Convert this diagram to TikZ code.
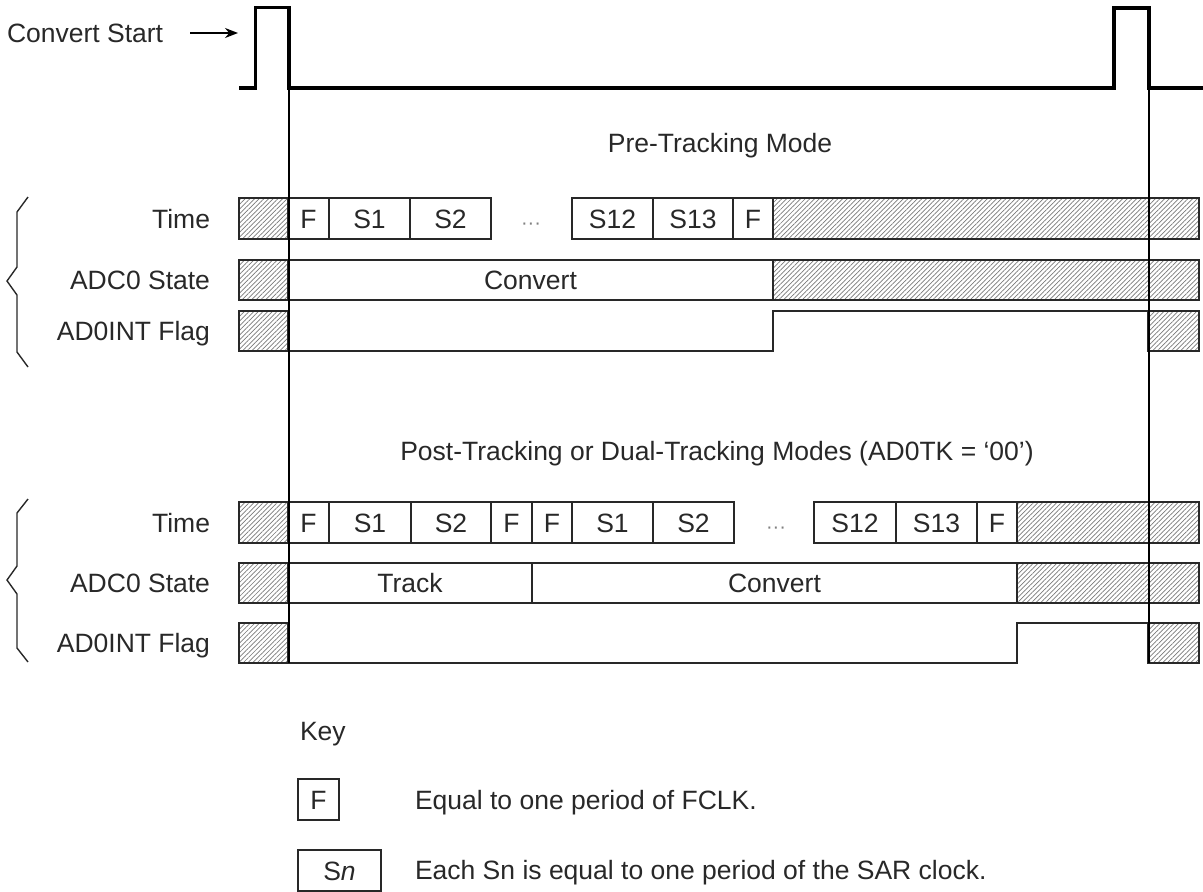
\documentclass[tikz,border=0pt]{standalone}
\usepackage{fontspec}
\setmainfont{Liberation Sans}
\usetikzlibrary{arrows.meta,patterns.meta}
\definecolor{ink}{RGB}{40,40,40}
\definecolor{hatchc}{RGB}{120,120,120}
\tikzset{
  lbl/.style={font=\fontsize{26.5}{30}\selectfont, text=ink, inner sep=0pt, outer sep=0pt, text height=19pt, text depth=0pt},
  cellbox/.style={lbl, draw=ink, line width=1.8pt, fill=white},
  hatch/.style={pattern={Lines[angle=45,distance=3.3pt,line width=0.7pt]}, pattern color=hatchc},
  sig/.style={line width=3.8pt, line join=miter, black},
  guide/.style={line width=1.5pt, black},
  flag/.style={draw=ink, line width=1.8pt, line join=miter},
  bracel/.style={line width=1.4pt, ink},
  arr/.style={line width=1.4pt, black, -{Stealth[length=13pt,width=10pt]}},
  dotsl/.style={font=\fontsize{20}{24}\selectfont, text=gray, inner sep=0pt},
}
\newcommand{\mycell}[7][]{%
  \node[cellbox,#1,minimum width={(#5-#3)*1pt},minimum height={(#6-#4)*1pt}] (#2) at ({(#3+#5)/2},{(#4+#6)/2}) {#7};}
\begin{document}
\begin{tikzpicture}[x=1pt,y=-1pt]
\useasboundingbox (0,0) rectangle (1203,892);
% ---------- group 1 : Pre-Tracking ----------
\node[lbl] (pre) at (720,143) {Pre-Tracking Mode};
\mycell[hatch]{ta0}{239}{198}{288}{239}{}
\mycell{ta1}{288}{198}{329}{239}{F}
\mycell{ta2}{329}{198}{410}{239}{S1}
\mycell{ta3}{410}{198}{491}{239}{S2}
\node[dotsl, anchor=base] (tad) at (531,229) {···};
\mycell{ta4}{572}{198}{653}{239}{S12}
\mycell{ta5}{653}{198}{733}{239}{S13}
\mycell{ta6}{733}{198}{773}{239}{F}
\mycell[hatch]{ta7}{773}{198}{1199}{239}{}
\mycell[hatch]{sa0}{239}{260}{288}{300}{}
\mycell{sa1}{288}{260}{773}{300}{Convert}
\mycell[hatch]{sa2}{773}{260}{1199}{300}{}
\mycell[hatch]{fa0}{239}{311}{288}{351}{}
\mycell[hatch]{fa2}{1148}{311}{1199}{351}{}
\draw[flag] (fa0.south east) -- (773,351) -- (773,311) -- (fa2.north west);
\node[lbl, anchor=east] (la1) at (210,218.5) {Time};
\node[lbl, anchor=east] (la2) at (210,280) {ADC0 State};
\node[lbl, anchor=east] (la3) at (210,331) {AD0INT Flag};
\draw[bracel] (28,197) -- (17,212) -- (17,267) -- (7,281) -- (17,295) -- (17,352) -- (28,367);
% ---------- group 2 : Post/Dual-Tracking ----------
\node[lbl] (post) at (717,451) {Post-Tracking or Dual-Tracking Modes (AD0TK = ‘00’)};
\mycell[hatch]{tb0}{239}{502}{288}{543}{}
\mycell{tb1}{288}{502}{329}{543}{F}
\mycell{tb2}{329}{502}{411}{543}{S1}
\mycell{tb3}{411}{502}{491}{543}{S2}
\mycell{tb4}{491}{502}{532}{543}{F}
\mycell{tb5}{532}{502}{572}{543}{F}
\mycell{tb6}{572}{502}{653}{543}{S1}
\mycell{tb7}{653}{502}{734}{543}{S2}
\node[dotsl, anchor=base] (tbd) at (776,533) {···};
\mycell{tb8}{814}{502}{896}{543}{S12}
\mycell{tb9}{896}{502}{977}{543}{S13}
\mycell{tb10}{977}{502}{1017}{543}{F}
\mycell[hatch]{tb11}{1017}{502}{1199}{543}{}
\mycell[hatch]{sb0}{239}{563}{288}{603}{}
\mycell{sb1}{288}{563}{532}{603}{Track}
\mycell{sb2}{532}{563}{1017}{603}{Convert}
\mycell[hatch]{sb3}{1017}{563}{1199}{603}{}
\mycell[hatch]{fb0}{239}{623}{288}{663}{}
\mycell[hatch]{fb2}{1148}{623}{1199}{663}{}
\draw[flag] (fb0.south east) -- (1017,663) -- (1017,623) -- (fb2.north west);
\node[lbl, anchor=east] (lb1) at (210,522.5) {Time};
\node[lbl, anchor=east] (lb2) at (210,583) {ADC0 State};
\node[lbl, anchor=east] (lb3) at (210,643) {AD0INT Flag};
\draw[bracel] (28,499) -- (17,513) -- (17,566) -- (7,580) -- (17,594) -- (17,648) -- (28,662);
% ---------- guides and Convert Start signal ----------
\draw[guide] (289,88) -- (289,663);
\draw[guide] (1149,88) -- (1149,663);
\draw[sig] (239,88) -- (255.5,88) -- (255.5,7.5) -- (289,7.5) -- (289,88) -- (1114,88) -- (1114,8) -- (1149,8) -- (1149,88) -- (1203,88);
\node[lbl, anchor=west] (cs) at (7,33) {Convert Start};
\coordinate (csb) at (238,33);
\draw[arr, shorten <=27pt] (cs) -- (csb);
% ---------- key ----------
\node[lbl, anchor=west] (key) at (300,731) {Key};
\mycell{kf}{298}{779}{339}{820}{F}
\node[lbl, anchor=west] (kft) at (415,800) {Equal to one period of FCLK.};
\mycell{ks}{298}{850}{381}{891}{S\textit{n}}
\node[lbl, anchor=west] (kst) at (415,870) {Each Sn is equal to one period of the SAR clock.};
\end{tikzpicture}
\end{document}
